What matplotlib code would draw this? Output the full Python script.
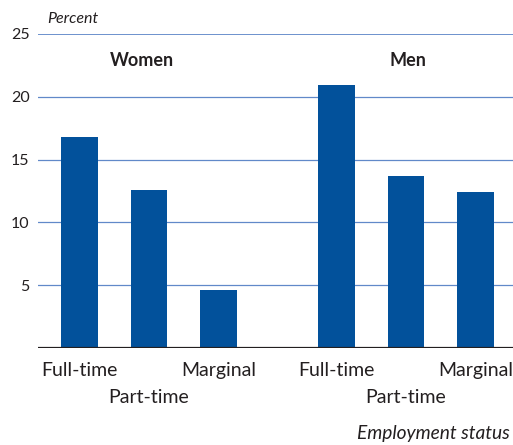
import matplotlib
matplotlib.use('Agg')
import matplotlib.pyplot as plt
import numpy as np

groups = ['Women', 'Men']
statuses = ['Full-time', 'Part-time', 'Marginal']
women = [16.8, 12.6, 4.6]
men = [20.9, 13.7, 12.4]

plt.rcParams['font.family'] = ['Lato', 'DejaVu Sans']
text_col = '#231f20'
bar_col = '#02519b'
grid_col = '#6189c9'

fig = plt.figure(figsize=(5.13, 4.45), dpi=100)
ax = fig.add_axes([0.074, 0.218, 0.926, 0.7056])

ind = np.arange(len(statuses))
group_gap = 3.7  # offset of the second group
width = 0.53
x_w = ind
x_m = ind + group_gap

ax.bar(x_w, women, width, color=bar_col, zorder=3)
ax.bar(x_m, men, width, color=bar_col, zorder=3)

ax.set_xlim(-0.6, 6.24)
ax.set_ylim(0, 25)
for y in [5, 10, 15, 20, 25]:
    ax.axhline(y, color=grid_col, lw=0.9 if y < 25 else 1.3, zorder=1)
ax.axhline(0, color=text_col, lw=1.6, zorder=4)

for s in ax.spines.values():
    s.set_visible(False)
ax.set_yticks([5, 10, 15, 20, 25])
ax.tick_params(axis='y', length=0, pad=6, labelsize=11.5, labelcolor=text_col)
ax.set_xticks([])

# category labels, staggered in two rows
for xs in (x_w, x_m):
    for i, (x, lab) in enumerate(zip(xs, statuses)):
        ax.annotate(lab, xy=(x, 0), xycoords='data',
                    xytext=(0, -10 if i != 1 else -29.5), textcoords='offset points',
                    ha='center', va='top', fontsize=14, color=text_col)

# group headers
for xs, g, shift in zip((x_w, x_m), groups, (-0.11, 0.03)):
    ax.text(xs.mean() + shift, 22.9, g, ha='center', va='center',
            fontsize=13, fontweight='bold', color=text_col)

fig.text(47 / 513, 1 - 19 / 445, 'Percent', style='italic', fontsize=11.5,
         color=text_col, va='center', ha='left')
fig.text(510 / 513, 1 - 434 / 445, 'Employment status', style='italic',
         fontsize=13.8, color=text_col, va='center', ha='right')

fig.savefig('out.png', dpi=100)
